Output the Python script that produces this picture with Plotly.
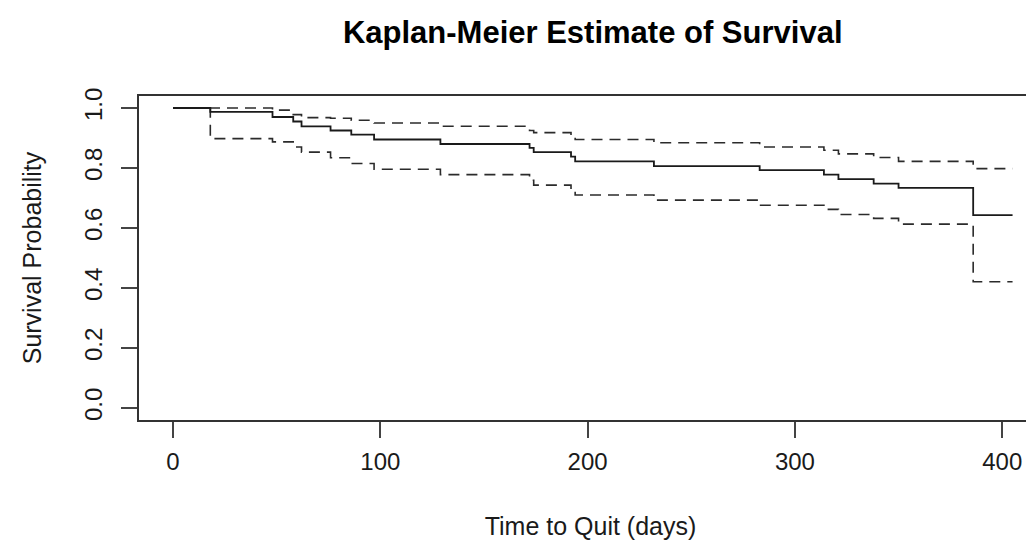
import plotly.graph_objects as go

# Kaplan-Meier step estimates (time in days)
times = [0, 18, 48, 58, 62, 76, 86, 97, 129, 172, 174, 192, 194, 232, 283, 314, 321, 338, 350, 386, 405]
surv = [1.0, 0.987, 0.970, 0.955, 0.939, 0.925, 0.911, 0.895, 0.880, 0.867, 0.853, 0.838, 0.822, 0.806,
        0.793, 0.778, 0.763, 0.748, 0.734, 0.643, 0.643]
upper = [1.0, 1.0, 0.993, 0.978, 0.968, 0.966, 0.959, 0.950, 0.939, 0.925, 0.918, 0.905, 0.895, 0.884,
         0.870, 0.859, 0.847, 0.835, 0.822, 0.798, 0.798]
lower = [1.0, 0.898, 0.887, 0.870, 0.853, 0.834, 0.815, 0.796, 0.778, 0.759, 0.743, 0.726, 0.710, 0.693,
         0.676, 0.662, 0.645, 0.632, 0.613, 0.421, 0.421]

x_ticks = [0, 100, 200, 300, 400]
y_ticks = [0.0, 0.2, 0.4, 0.6, 0.8, 1.0]
y_tick_labels = ["0.0", "0.2", "0.4", "0.6", "0.8", "1.0"]

FONT = "Liberation Sans, Arial, Helvetica, sans-serif"

fig = go.Figure()
fig.add_trace(go.Scatter(x=times, y=upper, mode="lines", line=dict(shape="hv", color="#2b2b2b", width=1.6, dash="11px,7px"),
                         name="Upper 95% CI", hoverinfo="x+y"))
fig.add_trace(go.Scatter(x=times, y=lower, mode="lines", line=dict(shape="hv", color="#2b2b2b", width=1.6, dash="11px,7px"),
                         name="Lower 95% CI", hoverinfo="x+y"))
fig.add_trace(go.Scatter(x=times, y=surv, mode="lines", line=dict(shape="hv", color="#1a1a1a", width=1.8),
                         name="Survival", hoverinfo="x+y"))

fig.update_layout(
    width=1034, height=541,
    margin=dict(l=131, r=0, t=88, b=129),
    paper_bgcolor="white", plot_bgcolor="white",
    showlegend=False,
    font=dict(family=FONT, size=24, color="#000000"),
    title=dict(text="<b>Kaplan-Meier Estimate of Survival</b>", x=584.7 / 1034, xref="container", xanchor="center",
               y=1 - 13 / 541, yref="container", yanchor="top", font=dict(family=FONT, size=31, color="#000000")),
    xaxis=dict(range=[-16.4, 419.2], tickvals=x_ticks, ticks="outside", ticklen=16, tickwidth=1.5, tickcolor="#444444",
               showline=True, linecolor="#333333", linewidth=1.5, mirror=True, showgrid=False, zeroline=False,
               tickfont=dict(size=24, color="#1a1a1a"), automargin=False, ticklabelstandoff=3,
               title=dict(text="Time to Quit (days)", standoff=44, font=dict(size=25, color="#1a1a1a"))),
    yaxis=dict(range=[-0.04, 1.04], tickvals=y_ticks, ticktext=y_tick_labels, tickangle=-90, ticks="outside", ticklen=16,
               tickwidth=1.5, tickcolor="#444444", showline=True, linecolor="#333333", linewidth=1.5, mirror=False,
               showgrid=False, zeroline=False, tickfont=dict(size=24, color="#1a1a1a"), automargin=False,
               ticklabelstandoff=10,
               title=dict(text="Survival Probability", standoff=31, font=dict(size=25, color="#1a1a1a"))),
)

fig.write_html("out.html")
